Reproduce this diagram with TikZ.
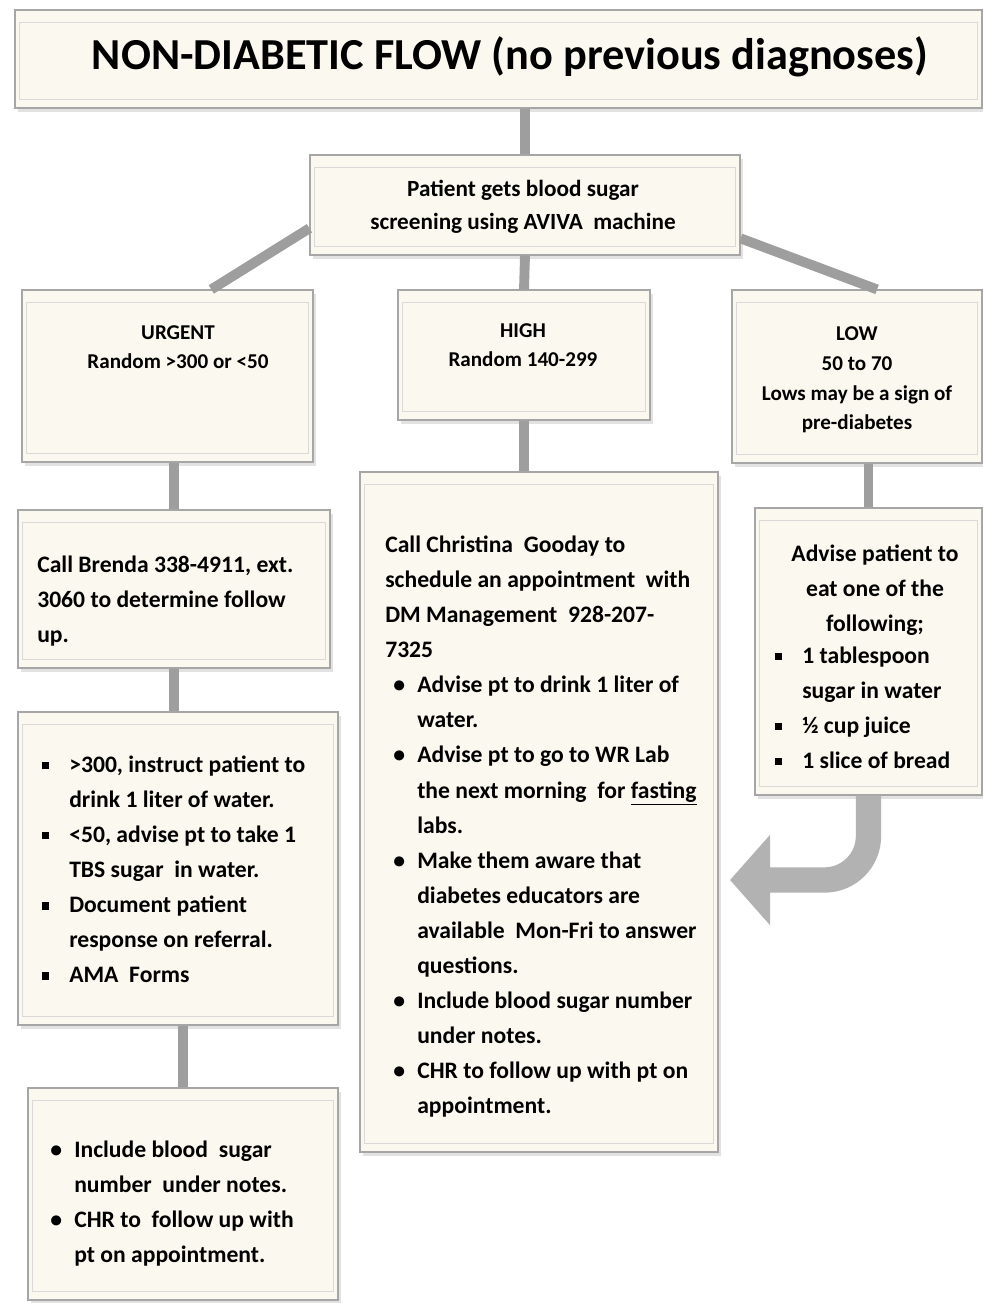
\documentclass[tikz,border=0pt]{standalone}
\usepackage{fontspec}
\setmainfont{Carlito}
\usetikzlibrary{shadows,fit,calc,arrows.meta}

\definecolor{cream}{RGB}{251,249,239}
\definecolor{linkgray}{RGB}{158,158,158}
\newdimen\px \px=0.025cm
\newcommand\bul{\makebox[24\px][l]{\textbullet}}
\newcommand\sqb{\makebox[27\px][l]{\rule[0.3ex]{0.3em}{0.3em}}}
\newcommand\ind{\hspace*{24\px}}
\newcommand\sind{\hspace*{27\px}}

\tikzset{
  box/.style={draw=gray!70, line width=0.8pt, fill=cream, inner sep=0pt,
    drop shadow={shadow xshift=2pt, shadow yshift=-3pt, fill=gray!45},
    path picture={\draw[gray!30, line width=0.7pt]
      ([xshift=3pt,yshift=-9pt]path picture bounding box.north west) rectangle
      ([xshift=-3pt,yshift=6pt]path picture bounding box.south east);}},
  txt/.style={inner sep=0pt, align=left, font=\fontsize{16.8}{24.9}\selectfont\bfseries},
  head/.style={inner sep=0pt, align=center, font=\fontsize{15}{21}\selectfont\bfseries},
  link/.style={draw=linkgray, line width=7pt},
}

\begin{document}
\begin{tikzpicture}[x=0.025cm,y=-0.025cm]
\useasboundingbox[fill=white] (0,0) rectangle (982,1303);

% boxes
\node[box, fit={(15,10) (982,108)}] (T) {};
\node[box, fit={(310,155) (740,255)}] (S) {};
\node[box, fit={(22,290) (313,462)}] (U) {};
\node[box, fit={(398,290) (650,420)}] (H) {};
\node[box, fit={(732,290) (982,463)}] (L) {};
\node[box, fit={(18,510) (330,668)}] (U1) {};
\node[box, fit={(18,712) (338,1025)}] (U2) {};
\node[box, fit={(28,1088) (338,1300)}] (U3) {};
\node[box, fit={(360,472) (718,1152)}] (H1) {};
\node[box, fit={(755,508) (982,795)}] (L1) {};

% texts
\node[inner sep=0pt, font=\fontsize{31.5}{36}\selectfont\bfseries] (Tt) at (510,57)
  {NON-DIABETIC FLOW (no previous diagnoses)};
\node[head, font=\fontsize{16.5}{23.4}\selectfont\bfseries] (St) at (523,207)
  {Patient gets blood sugar\\screening using AVIVA \ machine};
\node[head] (Ut) at (178,347) {URGENT\\Random >300 or <50};
\node[head] (Ht) at (523,345) {HIGH\\Random 140-299};
\node[head] (Lt) at (857,380) {LOW\\50 to 70\\Lows may be a sign of\\pre-diabetes};

\node[txt, anchor=north west] (U1t) at (37,556)
  {Call Brenda 338-4911, ext.\\3060 to determine follow\\up.};
\node[txt, anchor=north west] (U2t) at (42,756)
  {\sqb>300, instruct patient to\\
   \sind drink 1 liter of water.\\
   \sqb<50, advise pt to take 1\\
   \sind TBS sugar \ in water.\\
   \sqb Document patient\\
   \sind response on referral.\\
   \sqb AMA \ Forms};
\node[txt, anchor=north west] (U3t) at (50,1141)
  {\bul Include blood \ sugar\\
   \ind number \ under notes.\\
   \bul CHR to \ follow up with\\
   \ind pt on appointment.};
\node[txt, anchor=north west] (H1t) at (385,536)
  {Call Christina \ Gooday to\\
   schedule an appointment \ with\\
   DM Management \ 928-207-\\
   7325\\
   \hspace*{8\px}\bul Advise pt to drink 1 liter of\\
   \hspace*{8\px}\ind water.\\
   \hspace*{8\px}\bul Advise pt to go to WR Lab\\
   \hspace*{8\px}\ind the next morning \ for \underline{fasting}\\
   \hspace*{8\px}\ind labs.\\
   \hspace*{8\px}\bul Make them aware that\\
   \hspace*{8\px}\ind diabetes educators are\\
   \hspace*{8\px}\ind available \ Mon-Fri to answer\\
   \hspace*{8\px}\ind questions.\\
   \hspace*{8\px}\bul Include blood sugar number\\
   \hspace*{8\px}\ind under notes.\\
   \hspace*{8\px}\bul CHR to follow up with pt on\\
   \hspace*{8\px}\ind appointment.};
\node[txt, align=center] (L1a) at (875,590)
  {Advise patient to\\eat one of the\\following;};
\node[txt, anchor=north west] (L1b) at (775,647)
  {\sqb 1 tablespoon\\
   \sind sugar in water\\
   \sqb ½ cup juice\\
   \sqb 1 slice of bread};

% connectors
\draw[link] (S.north) -- (S.north |- T.south);
\draw[link] ($(S.south west)!0.27!(S.north west)$) -- ($(U.north west)!0.65!(U.north east)$);
\draw[link] (S.south) -- (H.north);
\draw[link] ($(S.south east)!0.17!(S.north east)$) -- ($(L.north west)!0.58!(L.north east)$);
\draw[link] (U1.north) -- (U1.north |- U.south);
\draw[link] (U1.south) -- (U1.south |- U2.north);
\draw[link] (U3.north) -- (U3.north |- U2.south);
\draw[link] (H.south) -- (H.south |- H1.north);
\draw[link] (L1.north) -- (L1.north |- L.south);

% return arrow from LOW to HIGH
\coordinate (ret) at (730,880);
\draw[draw=gray!60, line width=18pt, rounded corners=1.1cm,
      -{Triangle[length=1cm, width=2.2cm]}]
  (L1.south) -- (L1.south |- ret) -- (ret);
\end{tikzpicture}
\end{document}
